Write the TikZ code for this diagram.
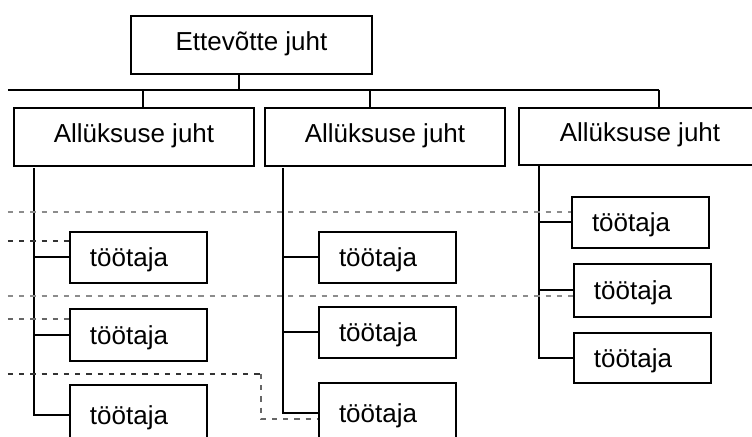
\documentclass[tikz,border=0pt]{standalone}
\usepackage{fontspec}
\setmainfont{Liberation Sans}
\usetikzlibrary{calc}
\begin{document}
\begin{tikzpicture}[x=0.5pt,y=-0.5pt,
  every node/.style={font=\fontsize{13pt}{15pt}\selectfont},
  bigbox/.style={draw, line width=1pt, anchor=north west, inner sep=0pt,
    text height=9.75pt, text depth=4.5pt},
  workbox/.style={draw, line width=1pt, anchor=north west, minimum width=68.5pt,
    inner xsep=10pt, inner ysep=0pt, text width=48.5pt, align=left,
    text height=9.75pt, text depth=0.5pt},
  solidline/.style={line width=1pt},
  lightdash/.style={line width=0.9pt, draw=black!45, dash pattern=on 2.6pt off 3pt},
  middash/.style={line width=0.9pt, draw=black!60, dash pattern=on 2.6pt off 3pt},
  darkdash/.style={line width=0.9pt, draw=black!80, dash pattern=on 2.6pt off 3pt}]
\clip (0,0) rectangle (752,437);
\fill[white] (0,0) rectangle (752,437);

% top
\node[bigbox, minimum width=120.5pt, minimum height=29pt] (E) at (130,15) {Ettevõtte juht};
\node[bigbox, minimum width=120pt, minimum height=29pt] (A1) at (13,107) {Allüksuse juht};
\node[bigbox, minimum width=120pt, minimum height=29pt] (A2) at (264,107) {Allüksuse juht};
\node[bigbox, minimum width=121pt, minimum height=28.5pt] (A3) at (518,107) {Allüksuse juht};

% workers
\node[workbox, minimum height=25.5pt] (c1a) at (69,231) {töötaja};
\node[workbox, minimum height=26pt] (c1b) at (69,308) {töötaja};
\node[workbox, minimum height=30pt, anchor=west] (c1c) at (69,415) {töötaja};
\node[workbox, minimum height=25.5pt] (c2a) at (318,231) {töötaja};
\node[workbox, minimum height=25.5pt] (c2b) at (318,306) {töötaja};
\node[workbox, minimum height=30pt, anchor=west] (c2c) at (318,413) {töötaja};
\node[workbox, minimum height=25.5pt] (c3a) at (571,196) {töötaja};
\node[workbox, minimum height=26.5pt] (c3b) at (573,263) {töötaja};
\node[workbox, minimum height=25pt] (c3c) at (573,332) {töötaja};

% bus
\coordinate (busL) at (8,90);
\coordinate (busR) at (659,90);
\coordinate (e1) at (239,90);
\coordinate (d1) at (143,90);
\coordinate (d2) at (370,90);
\draw[solidline] (busL) -- (busR);
\draw[solidline] (e1 |- E.south) -- (e1);
\draw[solidline] (d1) -- (d1 |- A1.north);
\draw[solidline] (d2) -- (d2 |- A2.north);
\draw[solidline] (busR) -- (busR |- A3.north);

% trunks
\coordinate (t1) at (34,168);
\coordinate (t2) at (283,168);
\coordinate (t3) at (539,165);
\draw[solidline] (t1) |- (c1c.west);
\draw[solidline] (c1a.west) -- (c1a.west -| t1);
\draw[solidline] (c1b.west) -- (c1b.west -| t1);
\draw[solidline] (t2) |- (c2c.west);
\draw[solidline] (c2a.west) -- (c2a.west -| t2);
\draw[solidline] (c2b.west) -- (c2b.west -| t2);
\draw[solidline] (t3) |- (c3c.west);
\draw[solidline] (c3a.west) -- (c3a.west -| t3);
\draw[solidline] (c3b.west) -- (c3b.west -| t3);

% dashed lines
\coordinate (h1) at (8,212);
\coordinate (h2) at (8,241);
\coordinate (h3) at (8,296);
\coordinate (h4) at (8,319);
\coordinate (h5) at (8,374);
\coordinate (k5) at (261,374);
\coordinate (m5) at (261,419);
\draw[lightdash] (h1) -- (h1 -| c3a.west);
\draw[darkdash] (h2) -- (h2 -| c1a.west);
\draw[lightdash] (h3) -- (h3 -| c3b.west);
\draw[middash] (h4) -- (h4 -| c1b.west);
\draw[darkdash] (h5) -- (k5);
\draw[middash] (k5) -- (m5) -- (m5 -| c2c.west);
\end{tikzpicture}
\end{document}
